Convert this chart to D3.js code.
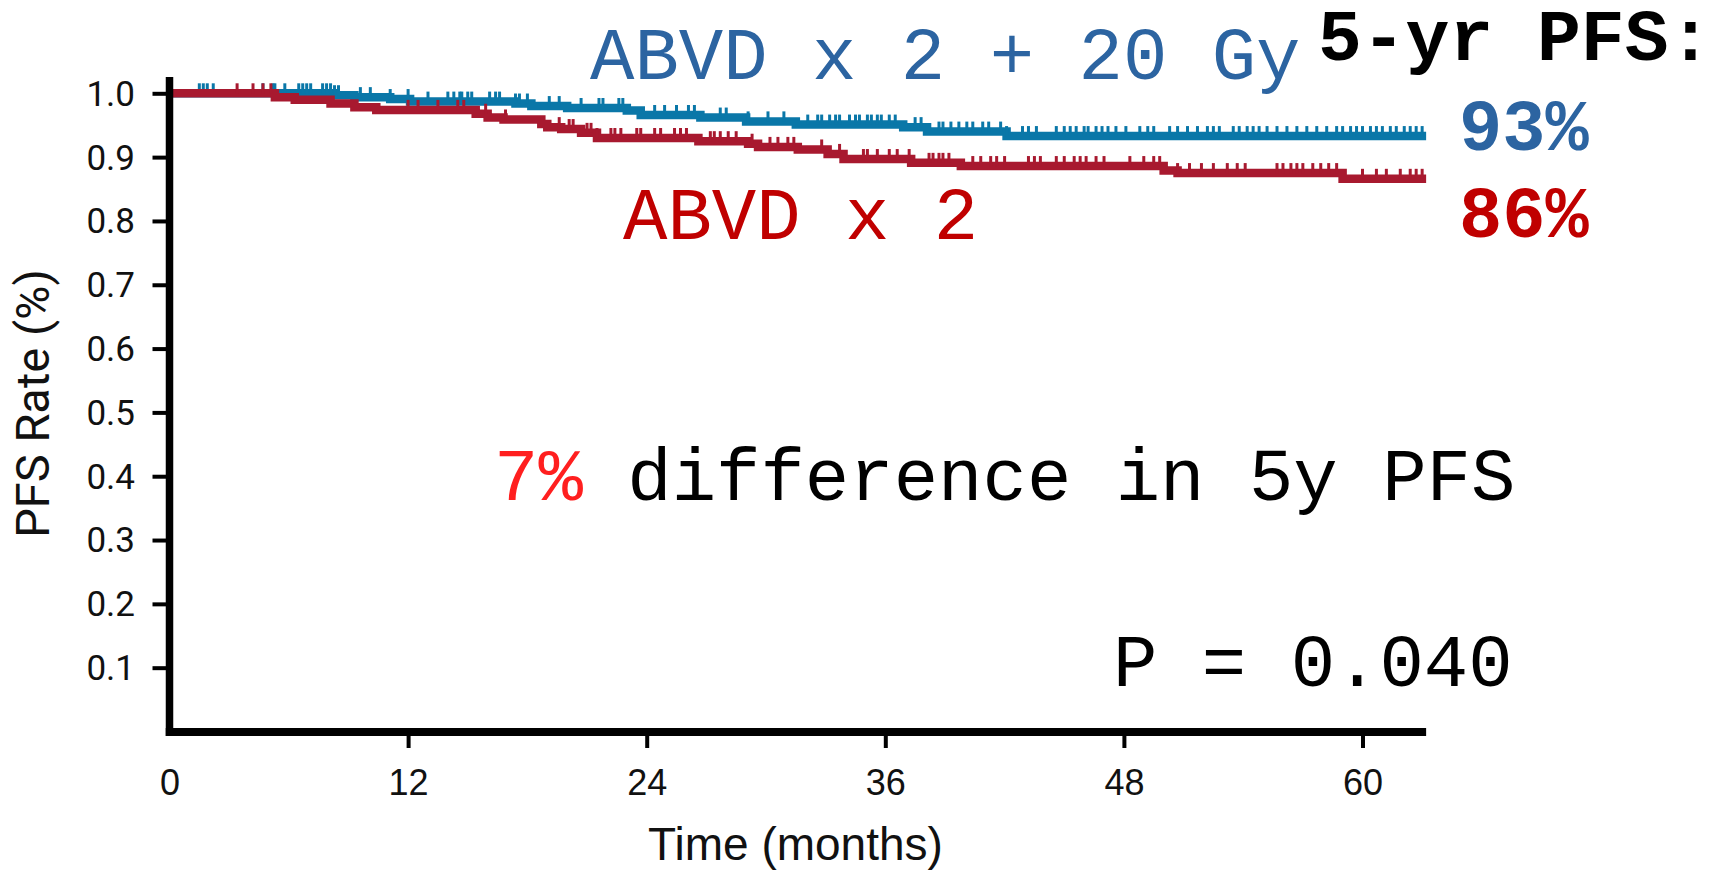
<!DOCTYPE html>
<html>
<head>
<meta charset="utf-8">
<script src="https://cdn.jsdelivr.net/npm/d3@7"></script>
<style>
  html, body { margin: 0; padding: 0; background: #ffffff; }
  svg { display: block; }
</style>
</head>
<body>
<svg id="chart" width="1721" height="872"></svg>
<script>
// ---- data -------------------------------------------------------------
const xTickValues = [0, 12, 24, 36, 48, 60];
const yTickValues = [0.1, 0.2, 0.3, 0.4, 0.5, 0.6, 0.7, 0.8, 0.9, 1.0];
const followUpEnd = 63.2; // months, last follow-up shown

// ABVD x 2 + 20 Gy : Kaplan-Meier steps (time in months, survival)
const armRtTimes = [0, 8.3, 9.3, 11.1, 12.1, 17.4, 18.2, 20.0, 23.0, 23.7, 26.7, 29.0, 31.5, 36.9, 38.1, 42.1];
const armRtSurv  = [1.0, 0.997, 0.994, 0.991, 0.987, 0.984, 0.980, 0.977, 0.973, 0.966, 0.962, 0.956, 0.951, 0.947, 0.940, 0.933];
const armRtCensored = [1.5, 1.7, 1.9, 2.2, 4.7, 5.2, 5.3, 5.8, 6.5, 6.7, 6.9, 7.1, 7.7, 7.9, 8.1, 8.3, 8.5,
  9.6, 10.1, 11.1, 12.0, 13.0, 14.0, 14.3, 14.6, 14.7, 15.0, 15.2, 16.1, 16.4, 16.6, 17.4, 17.6, 18.0,
  19.1, 19.6, 20.7, 21.6, 21.8, 22.6, 22.8, 24.4, 24.9, 25.5, 26.1, 26.4, 27.7, 28.0, 29.1, 30.1, 30.9,
  32.1, 32.6, 32.8, 33.2, 33.5, 33.7, 34.2, 34.5, 34.7, 35.1, 35.3, 35.6, 35.8, 36.2, 36.5, 37.5, 37.8,
  38.7, 38.9, 39.3, 39.7, 40.1, 40.4, 40.9, 41.2, 41.8, 42.1, 42.9, 43.2, 43.6, 44.6, 45.0, 45.3, 45.6,
  46.0, 46.2, 46.6, 46.9, 47.2, 47.6, 48.1, 48.8, 49.2, 49.5, 50.3, 50.7, 51.2, 51.7, 52.2, 52.5, 52.8,
  53.5, 53.8, 54.2, 54.5, 54.8, 55.2, 55.7, 56.2, 56.7, 57.2, 57.7, 58.2, 58.7, 59.0, 59.4, 59.7, 60.0,
  60.4, 60.7, 61.0, 61.4, 61.7, 62.1, 62.4, 62.7, 63.0];

// ABVD x 2 : Kaplan-Meier steps
const armChemoTimes = [0, 5.3, 6.3, 8.1, 9.3, 10.4, 15.4, 16.0, 16.8, 18.7, 19.0, 19.7, 20.7, 21.5, 26.6, 29.1,
  29.6, 31.6, 33.1, 33.9, 37.3, 39.8, 50.0, 50.7, 59.0];
const armChemoSurv = [1.0, 0.994, 0.990, 0.984, 0.978, 0.974, 0.968, 0.962, 0.959, 0.952, 0.947, 0.944, 0.938,
  0.930, 0.925, 0.921, 0.916, 0.912, 0.905, 0.897, 0.891, 0.886, 0.879, 0.875, 0.866];
const armChemoCensored = [3.4, 4.2, 4.7, 5.1, 12.0, 12.5, 13.5, 14.5, 14.8, 15.9, 16.9, 19.6, 20.1, 20.3,
  21.0, 21.2, 21.5, 22.2, 22.4, 22.7, 23.5, 23.7, 24.4, 24.7, 25.4, 25.7, 26.0, 27.2, 27.4, 27.7, 28.1,
  28.5, 29.3, 30.2, 30.6, 31.1, 31.4, 32.8, 33.7, 34.9, 35.1, 35.6, 36.2, 36.6, 37.2, 38.2, 38.4, 38.7,
  38.9, 39.2, 40.4, 40.8, 41.3, 41.6, 42.0, 43.2, 43.5, 43.8, 44.6, 45.0, 45.5, 45.8, 46.1, 46.6, 47.0,
  48.3, 49.0, 49.5, 49.8, 50.7, 51.3, 51.9, 52.5, 53.2, 53.7, 54.1, 55.7, 56.0, 56.4, 56.7, 57.0, 57.5,
  57.9, 58.3, 58.7, 60.0, 60.7, 61.2, 61.9, 62.4, 62.7, 63.0];

const fiveYearRt = "93%";
const fiveYearChemo = "86%";
const pValue = "P = 0.040";

// ---- drawing ----------------------------------------------------------
const svg = d3.select("#chart");
const monoFont = "'Courier New', 'Liberation Mono', monospace";
const colRtLine = "#0a77a8", colChemoLine = "#a8192f";
const colRtText = "#2c64a1", colChemoText = "#c00000";

const x = d3.scaleLinear().domain([0, 60]).range([169.5, 1362.5]);
const y = d3.scaleLinear().domain([0, 1]).range([731.5, 93.3]);

// y axis ticks + labels
const yAxis = svg.append("g")
  .attr("transform", `translate(${x(0)},0)`)
  .call(d3.axisLeft(y).tickValues(yTickValues).tickSize(17).tickSizeOuter(0).tickPadding(17.5)
    .tickFormat(d3.format(".1f")));
yAxis.select(".domain").remove();
yAxis.selectAll(".tick line").attr("stroke", "#000").attr("stroke-width", 4);
yAxis.selectAll(".tick text")
  .attr("dy", "0.34em")
  .attr("fill", "#111")
  .style("font-family", "Roboto, sans-serif")
  .style("font-size", "35px");

// x axis ticks + labels
const xAxis = svg.append("g")
  .attr("transform", `translate(0,${y(0) + 0.5})`)
  .call(d3.axisBottom(x).tickValues(xTickValues).tickSize(16).tickSizeOuter(0).tickPadding(21)
    .tickFormat(d3.format("d")));
xAxis.select(".domain").remove();
xAxis.selectAll(".tick line").attr("stroke", "#000").attr("stroke-width", 4)
  .attr("opacity", d => d === 0 ? 0 : 1);
xAxis.selectAll(".tick text")
  .attr("fill", "#111")
  .style("font-family", "'Liberation Sans', Arial, sans-serif")
  .style("font-size", "36px");

// Kaplan-Meier curves
function steps(times, surv) {
  const pts = times.map((t, i) => ({ t, s: surv[i] }));
  pts.push({ t: followUpEnd, s: surv[surv.length - 1] });
  return pts;
}
function survAt(times, surv, t) {
  const i = d3.bisectRight(times, t) - 1;
  return surv[Math.max(0, i)];
}
const line = d3.line().x(d => x(d.t)).y(d => y(d.s)).curve(d3.curveStepAfter);

function drawArm(times, surv, censored, color) {
  svg.append("path")
    .datum(steps(times, surv))
    .attr("d", line)
    .attr("fill", "none")
    .attr("stroke", color)
    .attr("stroke-width", 8.5)
    .attr("stroke-linejoin", "miter");
  svg.append("g").selectAll("line")
    .data(censored)
    .join("line")
    .attr("x1", d => x(d)).attr("x2", d => x(d))
    .attr("y1", d => y(survAt(times, surv, d)))
    .attr("y2", d => y(survAt(times, surv, d)) - 10)
    .attr("stroke", color)
    .attr("stroke-width", 3);
}
drawArm(armRtTimes, armRtSurv, armRtCensored, colRtLine);
drawArm(armChemoTimes, armChemoSurv, armChemoCensored, colChemoLine);

// axis lines
svg.append("line")
  .attr("x1", x(0)).attr("x2", x(0))
  .attr("y1", 77).attr("y2", y(0) + 4.5)
  .attr("stroke", "#000").attr("stroke-width", 7.5);
svg.append("line")
  .attr("x1", x(0) - 3.75).attr("x2", x(followUpEnd))
  .attr("y1", y(0) + 0.5).attr("y2", y(0) + 0.5)
  .attr("stroke", "#000").attr("stroke-width", 8);

// axis titles
svg.append("text")
  .attr("transform", "translate(49,403.5) rotate(-90)")
  .attr("text-anchor", "middle")
  .attr("fill", "#111")
  .style("font-family", "Roboto, sans-serif")
  .style("font-size", "47px")
  .text("PFS Rate (%)");
svg.append("text")
  .attr("x", 795.5).attr("y", 860)
  .attr("text-anchor", "middle")
  .attr("fill", "#111")
  .style("font-family", "'Liberation Sans', Arial, sans-serif")
  .style("font-size", "46px")
  .text("Time (months)");

// annotations
function note(xp, yp, str, color, size, weight) {
  return svg.append("text")
    .attr("x", xp).attr("y", yp)
    .attr("fill", color)
    .style("font-family", monoFont)
    .style("font-size", size + "px")
    .style("font-weight", weight || "normal")
    .style("white-space", "pre")
    .text(str);
}
note(590, 79, "ABVD x 2 + 20 Gy", colRtText, 74);
note(1318, 60, "5-yr PFS:", "#000", 73, "bold");
note(1459, 150, fiveYearRt, colRtText, 72, "bold");
note(623, 239, "ABVD x 2", colChemoText, 74);
note(1459, 237, fiveYearChemo, colChemoText, 72, "bold");

const diff = svg.append("text")
  .attr("x", 494).attr("y", 500)
  .style("font-family", monoFont)
  .style("font-size", "74px")
  .style("white-space", "pre");
diff.append("tspan").attr("fill", "#ff1f1f").text("7%");
diff.append("tspan").attr("fill", "#000").text(" difference in 5y PFS");

note(1113, 686, pValue, "#000", 74);
</script>
</body>
</html>
